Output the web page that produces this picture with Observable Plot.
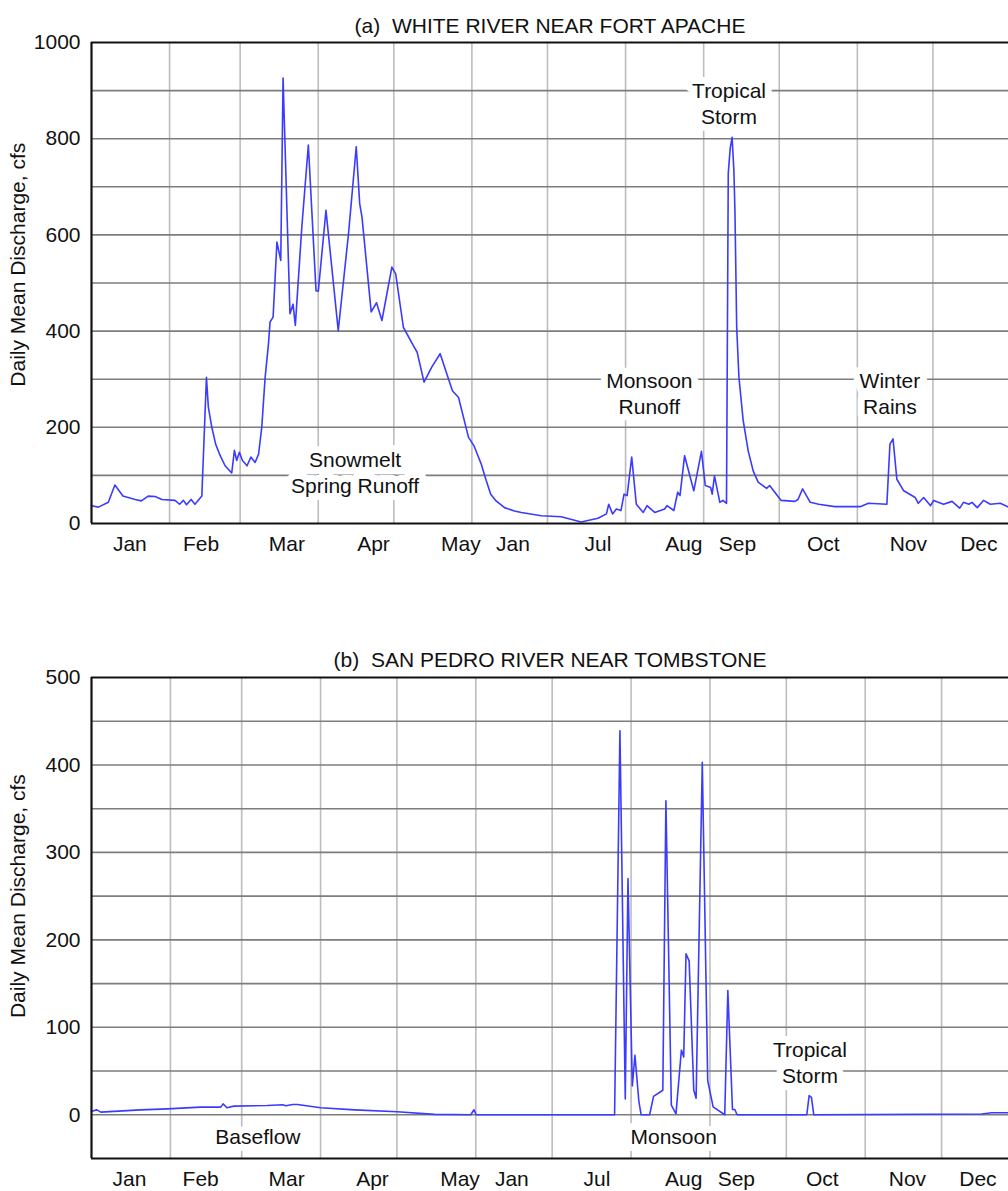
<!DOCTYPE html>
<html><head><meta charset="utf-8">
<script src="https://cdn.jsdelivr.net/npm/d3@7"></script>
<script src="https://cdn.jsdelivr.net/npm/@observablehq/plot@0.6"></script>
<style>
html,body{margin:0;padding:0;background:#fff;overflow:hidden}
#chart svg{display:block}
</style></head><body><div id="chart"></div>
<script>
// Month tick labels (as printed in the source figure)
const monthLabels = ["Jan","Feb","Mar","Apr","May","Jan","Jul","Aug","Sep","Oct","Nov","Dec"];
// Month lengths (days) -> vertical gridlines at month boundaries
const monthDays = [31,28,31,30,31,30,31,31,30,31,30,31];
// Label positions in month units (0 = start of year)
const labelPosA = [0.50,1.43,2.55,3.68,4.82,5.50,6.61,7.73,8.43,9.55,10.66,11.58];
const labelPosB = [0.49,1.41,2.52,3.63,4.76,5.43,6.53,7.65,8.33,9.44,10.54,11.45];

// (a) White River near Fort Apache: time (months) and daily mean discharge (cfs)
const whiteT = [0,0.09,0.22,0.305,0.41,0.57,0.65,0.74,0.83,0.92,1.09,1.15,1.20,1.24,1.30,1.35,1.44,1.50,1.525,1.57,1.62,1.68,1.743,1.83,1.865,1.895,1.93,1.97,2.03,2.08,2.135,2.18,2.222,2.266,2.31,2.33,2.37,2.42,2.47,2.50,2.59,2.63,2.66,2.745,2.83,2.93,2.96,3.06,3.22,3.355,3.455,3.50,3.53,3.65,3.72,3.79,3.92,3.97,4.07,4.20,4.25,4.34,4.44,4.55,4.71,4.79,4.92,4.99,5.085,5.15,5.21,5.28,5.39,5.52,5.61,5.87,6.13,6.39,6.61,6.72,6.75,6.80,6.85,6.91,6.95,6.99,7.05,7.11,7.20,7.25,7.35,7.48,7.51,7.60,7.65,7.68,7.74,7.86,7.96,8.01,8.08,8.10,8.13,8.20,8.24,8.287,8.31,8.335,8.36,8.383,8.397,8.42,8.449,8.505,8.57,8.636,8.70,8.81,8.85,9.00,9.18,9.22,9.28,9.38,9.49,9.70,10.03,10.14,10.38,10.42,10.46,10.51,10.60,10.75,10.79,10.86,10.95,10.99,11.12,11.23,11.33,11.38,11.45,11.49,11.56,11.64,11.73,11.86,11.98];
const whiteQ = [37,34,44,80,57,50,47,57,56,50,48,40,48,39,50,40,57,304,242,200,165,141,120,105,152,131,148,131,120,138,127,144,200,304,374,419,429,585,547,926,436,456,412,617,787,484,483,651,401,604,783,665,637,440,459,422,533,519,408,370,356,294,325,353,276,262,179,162,124,90,61,47,33,26,23,16,14,3,11,20,40,20,30,27,61,58,138,40,23,37,23,30,37,27,65,58,141,68,150,79,75,61,99,44,48,42,728,780,803,735,651,408,304,214,151,109,86,73,79,48,46,50,72,44,40,35,35,42,40,165,176,92,68,54,42,54,37,48,40,46,32,44,40,44,33,48,40,42,33];

// (b) San Pedro River near Tombstone
const sanT = [0,0.07,0.12,0.63,0.98,1.41,1.67,1.70,1.75,1.84,2.27,2.47,2.51,2.60,2.66,2.96,3.40,3.95,4.43,4.90,4.94,4.97,6.757,6.826,6.895,6.93,6.986,7.02,7.07,7.10,7.21,7.26,7.38,7.42,7.49,7.55,7.62,7.65,7.68,7.72,7.78,7.81,7.89,7.96,8.03,8.18,8.22,8.28,8.31,8.34,9.24,9.27,9.30,9.33,11.50,11.63,11.86];
const sanQ = [4,5.6,3,5.6,6.8,8.7,8.7,12.5,8,9.9,10.6,11.4,10.3,11.8,11.8,8,5.6,3.4,0.5,0,5.7,0,0,439,18,270,33,68,16,0,0,21,28,359,11,1,74,66,184,176,28,19,403,39,9,0,142,6,6,0,0,22,20,0,0.8,2.3,2.3];

// Annotations (data units: months, cfs)
const notesA = [
  {text:"Tropical\nStorm", x:8.32, y:875},
  {text:"Snowmelt\nSpring Runoff", x:3.44, y:107},
  {text:"Monsoon\nRunoff", x:7.28, y:271},
  {text:"Winter\nRains", x:10.42, y:271}
];
const notesB = [
  {text:"Baseflow", x:2.15, y:-24},
  {text:"Monsoon", x:7.52, y:-24},
  {text:"Tropical\nStorm", x:9.28, y:61}
];

const FONT = "Liberation Sans, Arial, Helvetica, sans-serif";
const FS = 21;
const DPM = 365 / 12;               // days per (average) month
const toDay = m => m * DPM;
const boundaries = d3.cumsum(monthDays).slice(0, 11);

function panel(o) {
  return Plot.plot({
    width: 1008,
    height: o.height,
    marginLeft: 91,
    marginRight: 0,
    marginTop: o.marginTop,
    marginBottom: o.marginBottom,
    style: {fontFamily: FONT, fontSize: FS + "px", color: "#111", background: "#fff", overflow: "visible"},
    x: {domain: [0, o.xMaxDays], axis: null},
    y: {domain: o.yDomain, axis: null},
    marks: [
      Plot.ruleX(boundaries, {stroke: "#bdbdbd", strokeWidth: 1.6}),
      Plot.ruleY(o.yGrid, {stroke: "#7d7d7d", strokeWidth: 1.6}),
      Plot.text(o.notes, {x: d => toDay(d.x), y: "y", text: "text", fontSize: FS, lineHeight: 1.24,
        fill: "#111", stroke: "white", strokeWidth: 14, strokeLinejoin: "round"}),
      Plot.line(o.t, {x: d => toDay(d), y: (d, i) => o.q[i], stroke: "#3b3bff", strokeWidth: 1.6}),
      Plot.ruleX([0], {stroke: "#111", strokeWidth: 2.2}),
      Plot.ruleY(o.yDomain, {stroke: "#111", strokeWidth: 2.2}),
      Plot.axisY({ticks: o.yTicks, tickSize: 0, tickPadding: 11, tickFormat: d => String(d), fontSize: FS, fill: "#111", label: null}),
      Plot.text(monthLabels, {x: (d, i) => toDay(o.labelPos[i]), frameAnchor: "bottom", dy: 27, fontSize: FS, fill: "#111"}),
      Plot.text([o.title], {frameAnchor: "top", dy: o.titleDy, fontSize: FS, fill: "#111"}),
      Plot.text(["Daily Mean Discharge, cfs"], {x: 0, y: o.yLabelAt, dx: -73, rotate: -90, fontSize: FS, fill: "#111"})
    ]
  });
}

const chart = document.getElementById("chart");
chart.appendChild(panel({
  title: "(a)  WHITE RIVER NEAR FORT APACHE",
  t: whiteT, q: whiteQ,
  height: 590, marginTop: 42, marginBottom: 67,
  xMaxDays: 364, yDomain: [0, 1000],
  yTicks: [0, 200, 400, 600, 800, 1000],
  yGrid: d3.range(100, 1000, 100),
  labelPos: labelPosA, notes: notesA,
  titleDy: -24, yLabelAt: 538
}));
chart.appendChild(panel({
  title: "(b)  SAN PEDRO RIVER NEAR TOMBSTONE",
  t: sanT, q: sanQ,
  height: 601, marginTop: 87, marginBottom: 33,
  xMaxDays: 360.3, yDomain: [-50, 500],
  yTicks: [0, 100, 200, 300, 400, 500],
  yGrid: d3.range(0, 500, 50),
  labelPos: labelPosB, notes: notesB,
  titleDy: -25, yLabelAt: 250
}));
</script>
</body></html>
